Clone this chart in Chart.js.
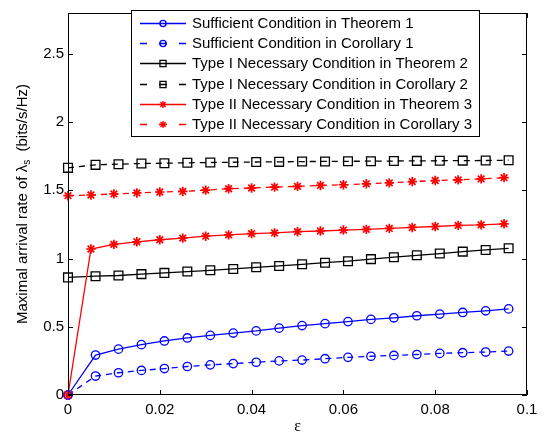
<!DOCTYPE html>
<html>
<head>
<meta charset="utf-8">
<script src="https://cdn.jsdelivr.net/npm/chart.js@4"></script>
<style>
  html, body { margin: 0; padding: 0; background: #fff; }
  #wrap { width: 544px; height: 434px; }
</style>
</head>
<body>
<div id="wrap"><canvas id="chart" width="544" height="434"></canvas></div>
<script>
// epsilon values (blue/black curves sit slightly right of the red ones)
const epsA = [0, 0.006, 0.011, 0.016, 0.021, 0.026, 0.031, 0.036, 0.041, 0.046, 0.051, 0.056, 0.061, 0.066, 0.071, 0.076, 0.081, 0.086, 0.091, 0.096];
const epsB = [0, 0.005, 0.010, 0.015, 0.020, 0.025, 0.030, 0.035, 0.040, 0.045, 0.050, 0.055, 0.060, 0.065, 0.070, 0.075, 0.080, 0.085, 0.090, 0.095];

const suffThm1 = [0, 0.293, 0.336, 0.369, 0.396, 0.418, 0.437, 0.454, 0.470, 0.490, 0.509, 0.523, 0.538, 0.554, 0.566, 0.581, 0.593, 0.605, 0.617, 0.631];
const suffCor1 = [0, 0.139, 0.163, 0.180, 0.194, 0.209, 0.221, 0.230, 0.240, 0.250, 0.256, 0.266, 0.276, 0.284, 0.290, 0.297, 0.305, 0.310, 0.315, 0.322];
const typeIThm2 = [0.862, 0.871, 0.876, 0.886, 0.895, 0.905, 0.914, 0.924, 0.936, 0.946, 0.958, 0.970, 0.981, 0.996, 1.010, 1.024, 1.037, 1.051, 1.063, 1.075];
const typeICor2 = [1.665, 1.687, 1.692, 1.697, 1.699, 1.702, 1.704, 1.706, 1.708, 1.709, 1.711, 1.712, 1.713, 1.714, 1.715, 1.716, 1.717, 1.718, 1.719, 1.721];
const typeIIThm3 = [0, 1.070, 1.104, 1.123, 1.138, 1.150, 1.164, 1.174, 1.183, 1.188, 1.197, 1.202, 1.209, 1.214, 1.221, 1.228, 1.235, 1.243, 1.247, 1.255];
const typeIICor3 = [1.461, 1.466, 1.474, 1.481, 1.488, 1.492, 1.502, 1.512, 1.517, 1.524, 1.529, 1.536, 1.541, 1.548, 1.555, 1.564, 1.572, 1.577, 1.584, 1.593];

const labels = [
  'Sufficient Condition in Theorem 1',
  'Sufficient Condition in Corollary 1',
  'Type I Necessary Condition in Theorem 2',
  'Type I Necessary Condition in Corollary 2',
  'Type II Necessary Condition in Theorem 3',
  'Type II Necessary Condition in Corollary 3'
];
const yTicks = [0, 0.5, 1, 1.5, 2, 2.5];
const xTicks = [0, 0.02, 0.04, 0.06, 0.08, 0.1];

const FONT = '"Liberation Sans", Arial, Helvetica, sans-serif';
const FS = 15;
const DASH = [6, 5];

function pts(xs, ys) {
  return xs.map((x, i) => ({ x: x, y: ys[i] }));
}

function series(i, xs, ys, color, style, dashed) {
  const r = style === 'rect' ? 6.2 : (style === 'star' ? 4.7 : 4.2);
  return {
    label: labels[i],
    data: pts(xs, ys),
    borderColor: color,
    backgroundColor: 'rgba(0,0,0,0)',
    borderWidth: 1.3,
    borderDash: dashed ? DASH : [],
    pointStyle: style,
    pointRadius: r,
    pointBorderWidth: style === 'star' ? 1.7 : 1.3,
    pointBorderColor: color,
    pointBackgroundColor: 'rgba(0,0,0,0)',
    tension: 0,
    clip: false,
    order: 6 - i,
    legendR: style === 'rect' ? 4.3 : (style === 'star' ? 3.6 : 3.1)
  };
}

const datasets = [
  series(0, epsA, suffThm1, '#0000ff', 'circle', false),
  series(1, epsA, suffCor1, '#0000ff', 'circle', true),
  series(2, epsA, typeIThm2, '#000000', 'rect', false),
  series(3, epsA, typeICor2, '#000000', 'rect', true),
  series(4, epsB, typeIIThm3, '#ff0000', 'star', false),
  series(5, epsB, typeIICor3, '#ff0000', 'star', true)
];

function fmt(v) {
  return String(Number(v.toFixed(3)));
}

// frame, inward ticks, axis titles and the boxed legend (MATLAB look)
const decor = {
  id: 'decor',
  afterDatasetsDraw(chart) {
    const ctx = chart.ctx;
    const a = chart.chartArea;
    const xs = chart.scales.x, ys = chart.scales.y;
    ctx.save();
    ctx.strokeStyle = '#000';
    ctx.lineWidth = 1;
    ctx.setLineDash([]);
    ctx.strokeRect(a.left + 0.5, a.top + 0.5, a.right - a.left - 1, a.bottom - a.top - 1);

    ctx.beginPath();
    xTicks.forEach(v => {
      const px = Math.round(xs.getPixelForValue(v)) + 0.5;
      ctx.moveTo(px, a.bottom); ctx.lineTo(px, a.bottom - 5);
      ctx.moveTo(px, a.top); ctx.lineTo(px, a.top + 5);
    });
    yTicks.forEach(v => {
      const py = Math.round(ys.getPixelForValue(v)) + 0.5;
      ctx.moveTo(a.left, py); ctx.lineTo(a.left + 5, py);
      ctx.moveTo(a.right, py); ctx.lineTo(a.right - 5, py);
    });
    ctx.stroke();

    // y title with subscript
    ctx.fillStyle = '#000';
    const main1 = 'Maximal arrival rate of \u03bb';
    const sub = 's';
    const main2 = '  (bits/s/Hz)';
    ctx.font = FS + 'px ' + FONT;
    const w1 = ctx.measureText(main1).width;
    const w3 = ctx.measureText(main2).width;
    ctx.font = '10px ' + FONT;
    const w2 = ctx.measureText(sub).width;
    const total = w1 + w2 + w3;
    ctx.translate(27, (a.top + a.bottom) / 2);
    ctx.rotate(-Math.PI / 2);
    ctx.textBaseline = 'alphabetic';
    ctx.textAlign = 'left';
    let x0 = -total / 2;
    ctx.font = FS + 'px ' + FONT;
    ctx.fillText(main1, x0, 0);
    ctx.font = '10px ' + FONT;
    ctx.fillText(sub, x0 + w1, 3);
    ctx.font = FS + 'px ' + FONT;
    ctx.fillText(main2, x0 + w1 + w2, 0);
    ctx.setTransform(1, 0, 0, 1, 0, 0);

    // x title
    ctx.font = '16px "Liberation Serif", "Times New Roman", serif';
    ctx.textAlign = 'center';
    ctx.fillText('\u03b5', (a.left + a.right) / 2, 431);

    // legend
    const bx = 131, by = 10, bw = 348, bh = 126;
    ctx.fillStyle = '#fff';
    ctx.fillRect(bx, by, bw, bh);
    ctx.strokeStyle = '#000';
    ctx.lineWidth = 1;
    ctx.strokeRect(bx + 0.5, by + 0.5, bw, bh);
    chart.data.datasets.forEach((ds, i) => {
      const y = Math.round(23 + i * 20.2) + 0.5;
      const x1 = 140, x2 = 186, xm = (x1 + x2) / 2;
      ctx.strokeStyle = ds.borderColor;
      ctx.lineWidth = 1.3;
      ctx.beginPath();
      if (ds.borderDash.length) {
        ctx.moveTo(x1, y); ctx.lineTo(x1 + 7, y);
        ctx.moveTo(xm - 4, y); ctx.lineTo(xm + 4, y);
        ctx.moveTo(x2 - 7, y); ctx.lineTo(x2, y);
      } else {
        ctx.moveTo(x1, y); ctx.lineTo(x2, y);
      }
      ctx.stroke();
      ctx.fillStyle = 'rgba(0,0,0,0)';
      Chart.helpers.drawPoint(ctx, {
        pointStyle: ds.pointStyle,
        radius: ds.legendR,
        rotation: 0,
        borderWidth: ds.pointStyle === 'star' ? 1.6 : 1.2
      }, xm, y);
      ctx.fillStyle = '#000';
      ctx.font = FS + 'px ' + FONT;
      ctx.textAlign = 'left';
      ctx.textBaseline = 'middle';
      ctx.fillText(ds.label, 192, y);
    });
    ctx.restore();
  }
};

new Chart(document.getElementById('chart'), {
  type: 'line',
  data: { datasets: datasets },
  options: {
    responsive: false,
    animation: false,
    layout: { padding: { top: 6, right: 17, left: 0, bottom: 0 } },
    plugins: { legend: { display: false }, tooltip: { enabled: false } },
    scales: {
      x: {
        type: 'linear',
        min: 0,
        max: 0.1,
        grid: { display: false, drawTicks: false },
        border: { display: false },
        afterBuildTicks: s => { s.ticks = xTicks.map(v => ({ value: v })); },
        afterFit: s => { s.height = 39; },
        ticks: {
          color: '#000',
          font: { family: FONT, size: FS },
          padding: 6,
          maxRotation: 0,
          autoSkip: false,
          callback: v => fmt(v)
        }
      },
      y: {
        type: 'linear',
        min: 0,
        max: 2.8,
        grid: { display: false, drawTicks: false },
        border: { display: false },
        afterBuildTicks: s => { s.ticks = yTicks.map(v => ({ value: v })); },
        afterFit: s => { s.width = 68; },
        ticks: {
          color: '#000',
          font: { family: FONT, size: FS },
          padding: 4,
          autoSkip: false,
          callback: v => fmt(v)
        }
      }
    }
  },
  plugins: [decor]
});
</script>
</body>
</html>
